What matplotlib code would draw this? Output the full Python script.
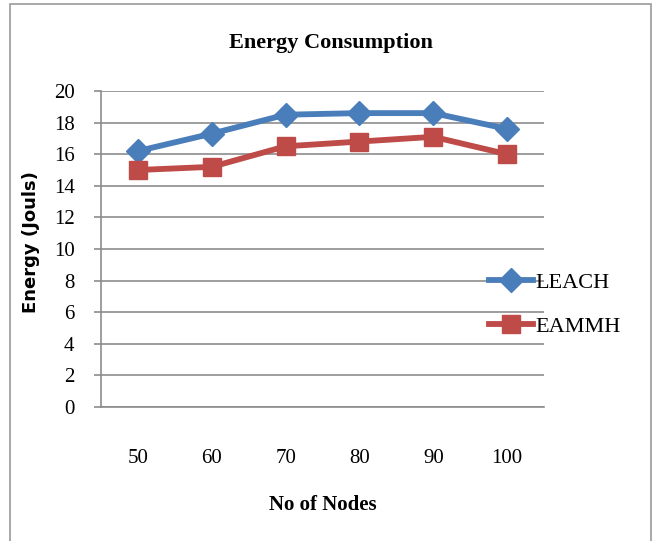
import matplotlib.pyplot as plt
from matplotlib.patches import Rectangle

nodes = ["50", "60", "70", "80", "90", "100"]
leach = [16.2, 17.3, 18.5, 18.6, 18.6, 17.6]
eammh = [15.0, 15.2, 16.5, 16.8, 17.1, 16.0]
yticks = [0, 2, 4, 6, 8, 10, 12, 14, 16, 18, 20]

plt.rcParams['font.family'] = ['Liberation Serif', 'DejaVu Serif']

fig = plt.figure(figsize=(6.57, 5.41), dpi=100)
fig.patches.append(Rectangle((10 / 657, -0.01), 641 / 657, 1 - 4 / 541 + 0.01,
                             transform=fig.transFigure, fill=False,
                             edgecolor="#9a9a9a", linewidth=1.2))

ax = fig.add_axes([101 / 657, 1 - 407 / 541, 443 / 657, 316 / 541])
x = range(len(nodes))
ax.plot(x, leach, color="#4a7ebb", linewidth=4.2, marker="D", markersize=12,
        label="LEACH")
ax.plot(x, eammh, color="#be4b48", linewidth=4.2, marker="s", markersize=12.5,
        label="EAMMH")

ax.set_xlim(-0.5, len(nodes) - 0.5)
ax.set_ylim(0, 20)
ax.set_yticks(yticks)
ax.set_yticklabels([str(v) for v in yticks], fontsize=15)
ax.set_xticks(list(x))
ax.set_xticklabels(nodes, fontsize=15)
ax.tick_params(axis="x", length=0, pad=30)
ax.tick_params(axis="y", length=5, color="#8c8c8c", width=1.2, pad=14)
ax.grid(axis="y", color="#8c8c8c", linewidth=1.2)
ax.set_axisbelow(True)
for s in ["top", "right"]:
    ax.spines[s].set_visible(False)
for s in ["left", "bottom"]:
    ax.spines[s].set_color("#8c8c8c")
    ax.spines[s].set_linewidth(1.2)

fig.text(331 / 657, 1 - 43 / 541, "Energy Consumption", ha="center", va="center",
         fontsize=16, fontweight="bold")
fig.text(323 / 657, 1 - 505 / 541, "No of Nodes", ha="center", va="center",
         fontsize=15, fontweight="bold")
fig.text(31 / 657, 1 - 242 / 541, "Energy (Jouls)", ha="center", va="center",
         rotation=90, fontsize=13, fontweight="bold", family="DejaVu Sans")

ax.legend(loc="center left", bbox_to_anchor=(0.83, 0.325), frameon=False,
          fontsize=16, handlelength=2.0, handletextpad=0.1, labelspacing=1.05)

fig.savefig("out.png", dpi=100)
